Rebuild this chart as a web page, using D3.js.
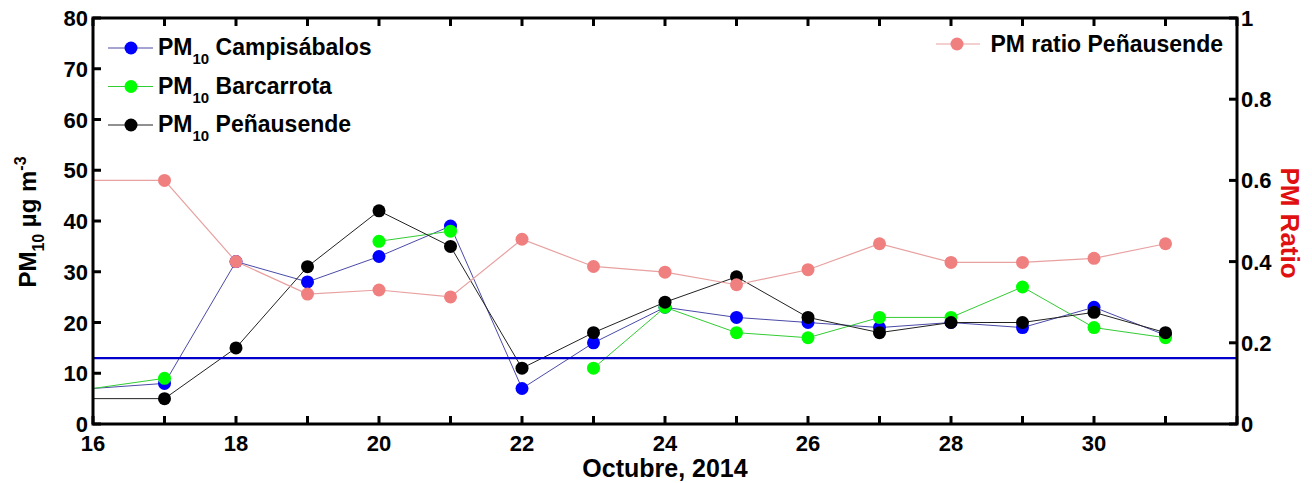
<!DOCTYPE html>
<html>
<head>
<meta charset="utf-8">
<script src="https://cdn.jsdelivr.net/npm/d3@7"></script>
<style>
  body { margin: 0; background: #fff; }
  text { font-family: "Liberation Sans", Arial, sans-serif; font-weight: bold; }
</style>
</head>
<body>
<svg id="chart" width="1312" height="483"></svg>
<script>
// days of October 2014
var days = [16,17,18,19,20,21,22,23,24,25,26,27,28,29,30,31];
var campisabalos = [7,8,32,28,33,39,7,16,23,21,20,19,20,19,23,17.5];
var barcarrota   = [7,9,null,null,36,38,null,11,23,18,17,21,21,27,19,17];
var penausende   = [5,5,15,31,42,35,11,18,24,29,21,18,20,20,22,18];
var ratioPen     = [0.6,0.6,0.4,0.32,0.33,0.313,0.455,0.388,0.374,0.343,0.38,0.444,0.398,0.398,0.408,0.444];
var limitValue = 13;
var xTicks = [16,17,18,19,20,21,22,23,24,25,26,27,28,29,30,31,32];
var yTicks = [0,10,20,30,40,50,60,70,80];
var y2Ticks = [0,0.2,0.4,0.6,0.8,1];

var svg = d3.select('#chart');
var L = 93, R = 1237, T = 18, B = 424;

var x = d3.scaleLinear().domain([16, 32]).range([L, R]);
var y = d3.scaleLinear().domain([0, 80]).range([B, T]);
var y2 = d3.scaleLinear().domain([0, 1]).range([B, T]);

svg.append('clipPath').attr('id', 'clip')
  .append('rect').attr('x', L).attr('y', T).attr('width', R - L).attr('height', B - T);

var plot = svg.append('g').attr('clip-path', 'url(#clip)');

function drawSeries(vals, ys, lineCol, dotCol, lw) {
  var pts = days.map(function(d, i) { return {d: d, v: vals[i]}; });
  var line = d3.line()
    .defined(function(p) { return p.v != null; })
    .x(function(p) { return x(p.d); })
    .y(function(p) { return ys(p.v); });
  plot.append('path').datum(pts)
    .attr('fill', 'none').attr('stroke', lineCol).attr('stroke-width', lw)
    .attr('d', line);
  plot.selectAll(null)
    .data(pts.filter(function(p) { return p.v != null && p.d > 16; }))
    .enter().append('circle')
    .attr('cx', function(p) { return x(p.d); })
    .attr('cy', function(p) { return ys(p.v); })
    .attr('r', 6.5)
    .attr('fill', dotCol);
}

drawSeries(campisabalos, y, '#4a4aa8', '#0000ff', 1);
drawSeries(barcarrota, y, '#33cc33', '#00ff00', 1);
drawSeries(penausende, y, '#222', '#000', 1);
drawSeries(ratioPen, y2, '#e8a0a0', '#f08080', 1.2);

// limit line
plot.append('line')
  .attr('x1', L).attr('x2', R)
  .attr('y1', y(limitValue)).attr('y2', y(limitValue))
  .attr('stroke', '#0000c8').attr('stroke-width', 2.2);

// axes
var ax = svg.append('g');
ax.append('rect').attr('x', L).attr('y', T).attr('width', R - L).attr('height', B - T)
  .attr('fill', 'none').attr('stroke', '#000').attr('stroke-width', 3);

var tl = 8;
xTicks.forEach(function(t) {
  ax.append('line').attr('x1', x(t)).attr('x2', x(t)).attr('y1', B).attr('y2', B - tl)
    .attr('stroke', '#000').attr('stroke-width', 3);
  ax.append('line').attr('x1', x(t)).attr('x2', x(t)).attr('y1', T).attr('y2', T + tl)
    .attr('stroke', '#000').attr('stroke-width', 3);
  if (t % 2 === 0 && t < 32) {
    ax.append('text').attr('x', x(t)).attr('y', B + 27)
      .attr('text-anchor', 'middle').attr('font-size', 22).text(t);
  }
});
yTicks.forEach(function(t) {
  ax.append('line').attr('x1', L).attr('x2', L + tl).attr('y1', y(t)).attr('y2', y(t))
    .attr('stroke', '#000').attr('stroke-width', 3);
  ax.append('text').attr('x', L - 5).attr('y', y(t) + 8)
    .attr('text-anchor', 'end').attr('font-size', 22).text(t);
});
y2Ticks.forEach(function(t) {
  ax.append('line').attr('x1', R).attr('x2', R - tl).attr('y1', y2(t)).attr('y2', y2(t))
    .attr('stroke', '#000').attr('stroke-width', 3);
  ax.append('text').attr('x', R + 4).attr('y', y2(t) + 8)
    .attr('text-anchor', 'start').attr('font-size', 22).text(t);
});

// axis titles
svg.append('text').attr('x', (L + R) / 2).attr('y', 477)
  .attr('text-anchor', 'middle').attr('font-size', 25).text('Octubre, 2014');

var yl = svg.append('text')
  .attr('transform', 'translate(36,222) rotate(-90)')
  .attr('text-anchor', 'middle').attr('font-size', 24);
yl.append('tspan').text('PM');
yl.append('tspan').attr('font-size', 16).attr('dy', 8).text('10');
yl.append('tspan').attr('dy', -8).text(' \u00b5g m');
yl.append('tspan').attr('font-size', 16).attr('dy', -10).text('-3');

svg.append('text')
  .attr('transform', 'translate(1281,223) rotate(90)')
  .attr('text-anchor', 'middle').attr('font-size', 26).attr('fill', '#e01010')
  .text('PM Ratio');

// legend
var legend = [
  {name: 'Campis\u00e1balos', line: '#4a4aa8', dot: '#0000ff'},
  {name: 'Barcarrota', line: '#33cc33', dot: '#00ff00'},
  {name: 'Pe\u00f1ausende', line: '#222', dot: '#000'}
];
legend.forEach(function(d, i) {
  var ly = 48 + i * 38.5;
  svg.append('line').attr('x1', 108).attr('x2', 153).attr('y1', ly).attr('y2', ly)
    .attr('stroke', d.line).attr('stroke-width', 1);
  svg.append('circle').attr('cx', 131).attr('cy', ly).attr('r', 6.5).attr('fill', d.dot);
  var t = svg.append('text').attr('x', 158).attr('y', ly + 7).attr('font-size', 23);
  t.append('tspan').text('PM');
  t.append('tspan').attr('font-size', 15).attr('dy', 9).text('10');
  t.append('tspan').attr('dy', -9).text(' ' + d.name);
});

svg.append('line').attr('x1', 936).attr('x2', 980).attr('y1', 44).attr('y2', 44)
  .attr('stroke', '#e8a0a0').attr('stroke-width', 1.2);
svg.append('circle').attr('cx', 957).attr('cy', 44).attr('r', 6.5).attr('fill', '#f08080');
svg.append('text').attr('x', 1223).attr('y', 52).attr('text-anchor', 'end')
  .attr('font-size', 23).text('PM ratio Pe\u00f1ausende');
</script>
</body>
</html>
